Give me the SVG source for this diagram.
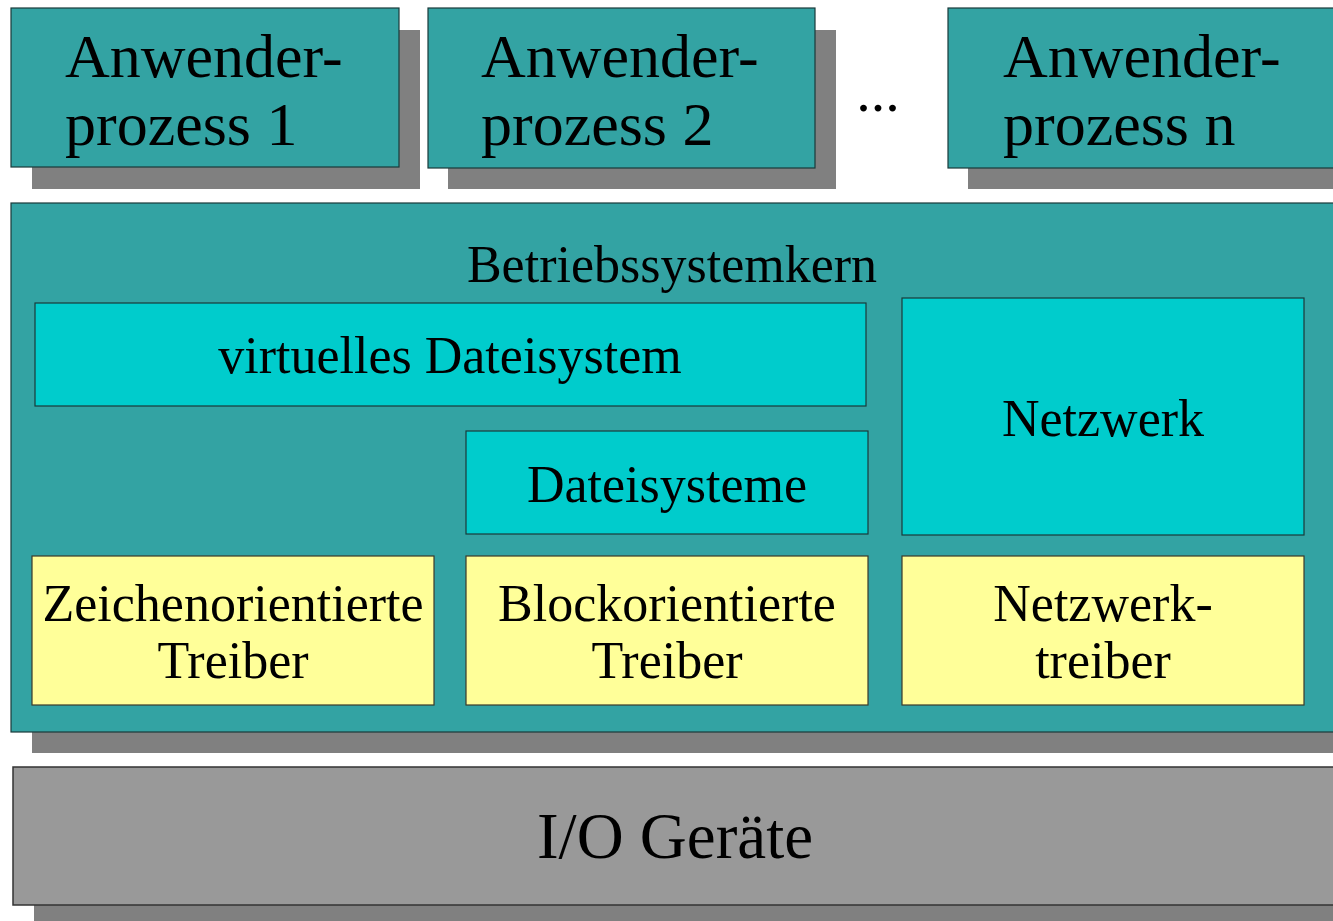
<svg xmlns="http://www.w3.org/2000/svg" width="1333" height="921" viewBox="0 0 1333 921">
<style>
.sh{fill:#808080}
.teal{fill:#33a3a3;stroke:#1a3a3a;stroke-width:1.2}
.cyan{fill:#00cccc;stroke:#1a3a3a;stroke-width:1.2}
.yel{fill:#ffff99;stroke:#3a3a2a;stroke-width:1.2}
.gray{fill:#999999;stroke:#333;stroke-width:1.5}
text{font-family:"Liberation Serif","Times New Roman",serif;fill:#000}
.big{font-size:62px}
.mid{font-size:52px;text-anchor:middle}
.io{font-size:65px;text-anchor:middle}
</style>
<rect width="1333" height="921" fill="#fff"/>
<g id="proc1">
<rect class="sh" x="32" y="30" width="388" height="159"/>
<rect class="teal" x="11" y="8" width="388" height="159"/>
<text class="big" x="65" y="77">Anwender-</text>
<text class="big" x="65" y="145">prozess 1</text>
</g>
<g id="proc2">
<rect class="sh" x="448" y="30" width="388" height="159"/>
<rect class="teal" x="428" y="8" width="387" height="160"/>
<text class="big" x="481" y="77">Anwender-</text>
<text class="big" x="481" y="145">prozess 2</text>
</g>
<g id="dots">
<text x="878" y="111" style="font-size:58px;text-anchor:middle">...</text>
</g>
<g id="procn">
<rect class="sh" x="968" y="30" width="380" height="159"/>
<rect class="teal" x="948" y="8" width="400" height="160"/>
<text class="big" x="1003" y="77">Anwender-</text>
<text class="big" x="1003" y="145">prozess n</text>
</g>
<g id="kernel">
<rect class="sh" x="32" y="225" width="1320" height="528"/>
<rect class="teal" x="11" y="203" width="1340" height="529"/>
<text class="mid" x="672" y="282">Betriebssystemkern</text>
</g>
<g id="vfs">
<rect class="cyan" x="35" y="303" width="831" height="103"/>
<text class="mid" x="450" y="373">virtuelles Dateisystem</text>
</g>
<g id="fs">
<rect class="cyan" x="466" y="431" width="402" height="103"/>
<text class="mid" x="667" y="502">Dateisysteme</text>
</g>
<g id="net">
<rect class="cyan" x="902" y="298" width="402" height="237"/>
<text class="mid" x="1103" y="436">Netzwerk</text>
</g>
<g id="chardrv">
<rect class="yel" x="32" y="556" width="402" height="149"/>
<text class="mid" x="233" y="621">Zeichenorientierte</text>
<text class="mid" x="233" y="678">Treiber</text>
</g>
<g id="blockdrv">
<rect class="yel" x="466" y="556" width="402" height="149"/>
<text class="mid" x="667" y="621">Blockorientierte</text>
<text class="mid" x="667" y="678">Treiber</text>
</g>
<g id="netdrv">
<rect class="yel" x="902" y="556" width="402" height="149"/>
<text class="mid" x="1103" y="621">Netzwerk-</text>
<text class="mid" x="1103" y="678">treiber</text>
</g>
<g id="io">
<rect class="sh" x="34" y="905" width="1320" height="20"/>
<rect class="gray" x="13" y="767" width="1340" height="138"/>
<text class="io" x="675" y="858">I/O Geräte</text>
</g>
<g id="connectors"></g>
</svg>
